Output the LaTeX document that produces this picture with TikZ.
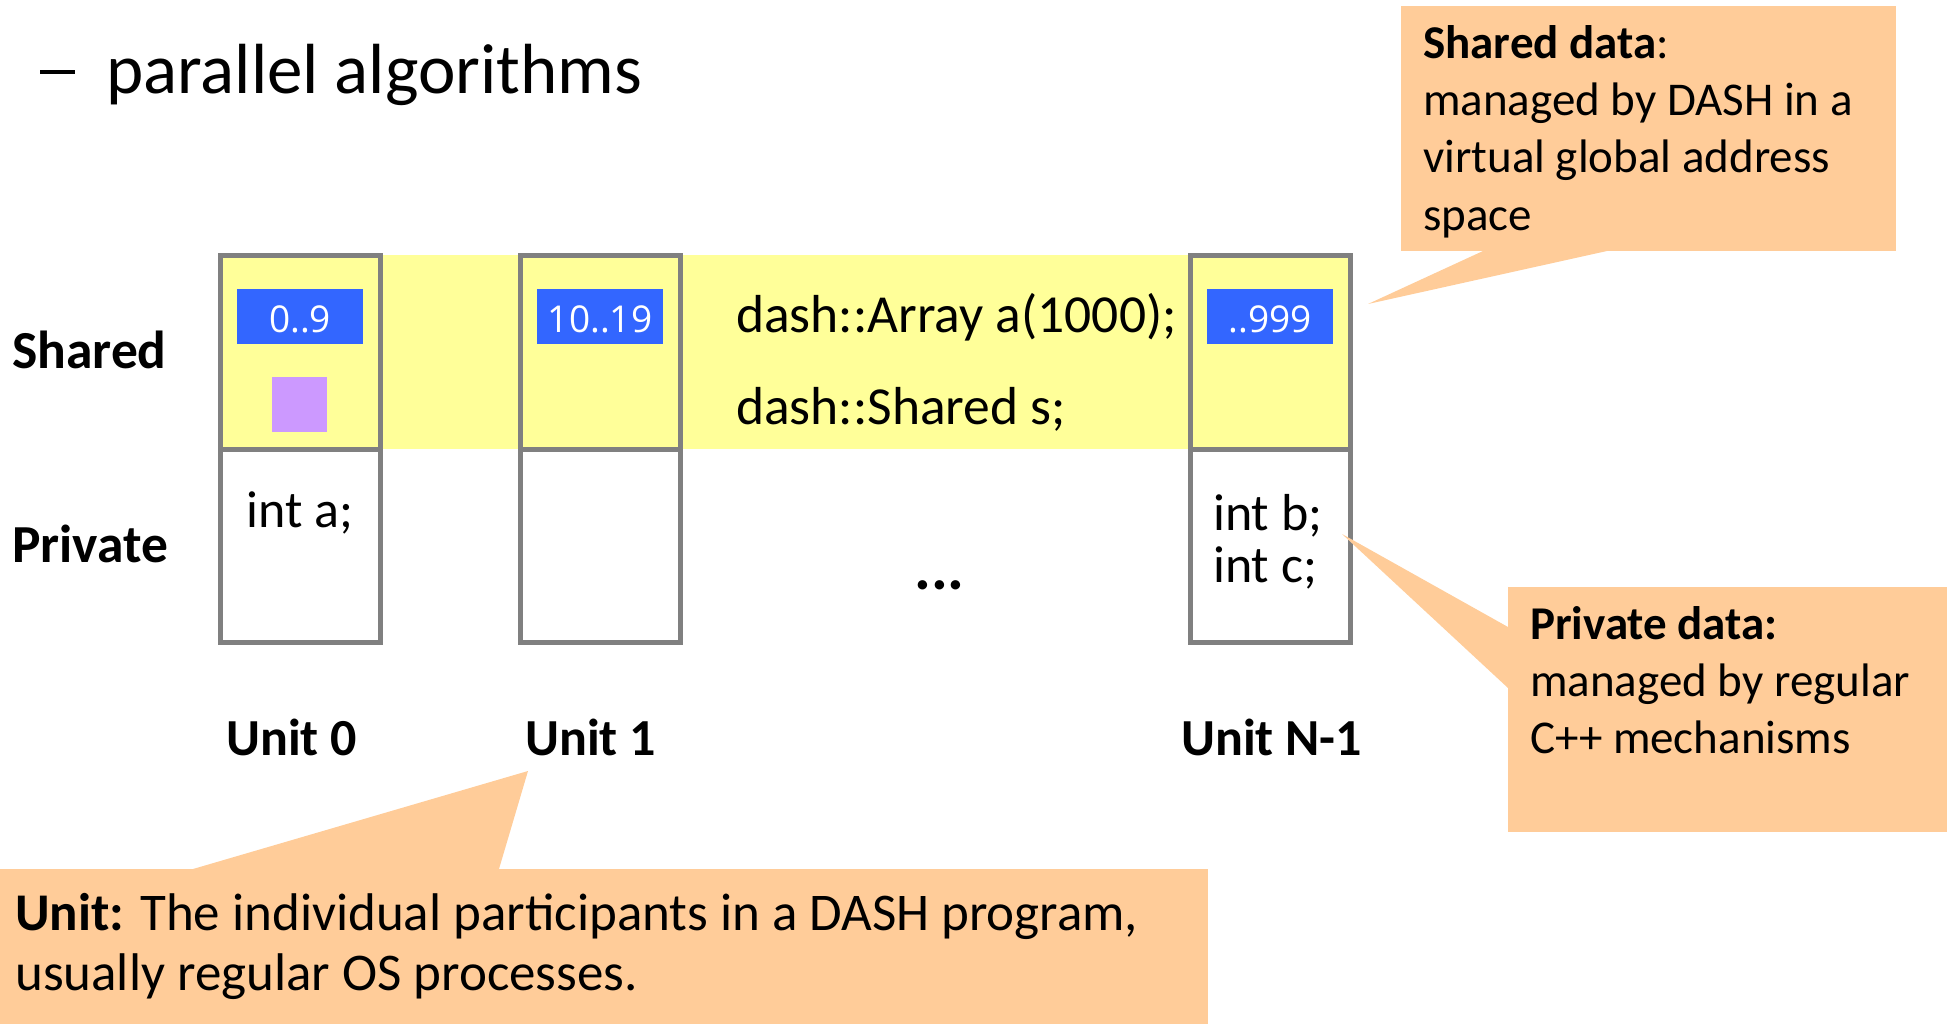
\documentclass[tikz,border=0pt]{standalone}
\usepackage{fontspec}
\setmainfont{Carlito}
\newfontfamily\blockfont{Open Sans}
\definecolor{bandyellow}{HTML}{FFFF99}
\definecolor{cellgray}{HTML}{808080}
\definecolor{blockblue}{HTML}{3366FF}
\definecolor{scalarviolet}{HTML}{CC99FF}
\definecolor{noteorange}{HTML}{FFCC99}
\newcommand{\fsz}[1]{\fontsize{#1}{1.2\dimexpr#1pt\relax}\selectfont}
\tikzset{
  cell/.style={draw=cellgray, line width=5pt, minimum width=159.5pt, minimum height=193.5pt, inner sep=0pt, outer sep=0pt, anchor=north west},
  sharedcell/.style={cell, fill=bandyellow},
  privcell/.style={cell, fill=white},
  block/.style={fill=blockblue, text=white, minimum width=126pt, minimum height=55pt, inner sep=0pt,
    text height=40pt, text depth=7pt, font=\blockfont\fsz{37}},
  scalar/.style={fill=scalarviolet, minimum width=55pt, minimum height=55pt, inner sep=0pt},
  txt/.style={inner sep=0pt, anchor=base west},
  rowlabel/.style={txt, font=\fsz{53.5}\bfseries},
  unitlabel/.style={txt, font=\fsz{52}\bfseries},
  code/.style={txt, font=\fsz{53.5}},
  vardecl/.style={txt, font=\fsz{52}},
  note/.style={txt, font=\fsz{47}},
  notebox/.style={fill=noteorange, inner sep=0pt, outer sep=0pt, anchor=north west},
}
\begin{document}
\begin{tikzpicture}[x=1pt, y=-1pt]
\useasboundingbox (0,0) rectangle (1957,1024);

% bullet line
\node[txt] (bullet) at (40,74) {\rule{35pt}{4pt}};
\node[txt, font=\fsz{71}] (bullettext) at (106,94) {parallel algorithms};

% shared address band
\fill[bandyellow] (220,255) rectangle (1350,449);

% units: shared and private cells
\node[sharedcell] (s0) at (220.5,255.5) {};
\node[privcell]   (p0) at (220.5,449) {};
\node[sharedcell] (s1) at (520.5,255.5) {};
\node[privcell]   (p1) at (520.5,449) {};
\node[sharedcell] (sn) at (1190.5,255.5) {};
\node[privcell]   (pn) at (1190.5,449) {};

% array blocks and shared scalar
\node[block] (b0) at (300,316.5) {0..9};
\node[block] (b1) at (600,316.5) {10..19};
\node[block] (bn) at (1270,316.5) {..999};
\node[scalar] (sc) at (299.5,404.5) {};

% declarations
\node[code] (arr) at (736,333) {dash::Array a(1000);};
\node[code] (shs) at (736,424) {dash::Shared s;};
\node[vardecl, anchor=base] (inta) at (300,527) {int a;};
\node[vardecl] (intb) at (1213,530) {int b;};
\node[vardecl] (intc) at (1213,582) {int c;};
\node[txt, font=\fsz{63}\bfseries] (dots) at (914,589) {...};

% row and unit labels
\node[rowlabel] (lshared) at (12,368) {Shared};
\node[rowlabel] (lpriv) at (12,562) {Private};
\node[unitlabel] (u0) at (226,755) {Unit 0};
\node[unitlabel] (u1) at (525,755) {Unit 1};
\node[unitlabel] (un) at (1181,755) {Unit N-1};

% callout: shared data
\coordinate (sharedtip) at (1368,304);
\node[notebox, minimum width=495pt, minimum height=245pt] (sharednote) at (1401,6) {};
\fill[noteorange] ([xshift=82pt]sharednote.south west) -- (sharedtip) -- ([xshift=206pt]sharednote.south west) -- cycle;
\node[note] (sn1) at (1423,59) {\textbf{Shared data}:};
\node[note] (sn2) at (1423,116) {managed by DASH in a};
\node[note] (sn3) at (1423,173) {virtual global address};
\node[note] (sn4) at (1423,231) {space};

% callout: private data
\coordinate (privtip) at (1342,534);
\node[notebox, minimum width=439pt, minimum height=245pt] (privnote) at (1508,587) {};
\fill[noteorange] ([yshift=-40pt]privnote.north west) -- (privtip) -- ([yshift=-101pt]privnote.north west) -- cycle;
\node[note] (pn1) at (1530,639) {\textbf{Private data:}};
\node[note] (pn2) at (1530,696) {managed by regular};
\node[note] (pn3) at (1530,753) {C++ mechanisms};

% callout: unit
\coordinate (unittip) at (528,771);
\node[notebox, minimum width=1208pt, minimum height=155pt] (unitnote) at (0,869) {};
\fill[noteorange] ([xshift=193pt]unitnote.north west) -- (unittip) -- ([xshift=499pt]unitnote.north west) -- cycle;
\node[txt, font=\fsz{53}] (un1) at (15,930) {\textbf{Unit:} The individual participants in a DASH program,};
\node[txt, font=\fsz{53}] (un2) at (15,990) {usually regular OS processes.};
\end{tikzpicture}
\end{document}
